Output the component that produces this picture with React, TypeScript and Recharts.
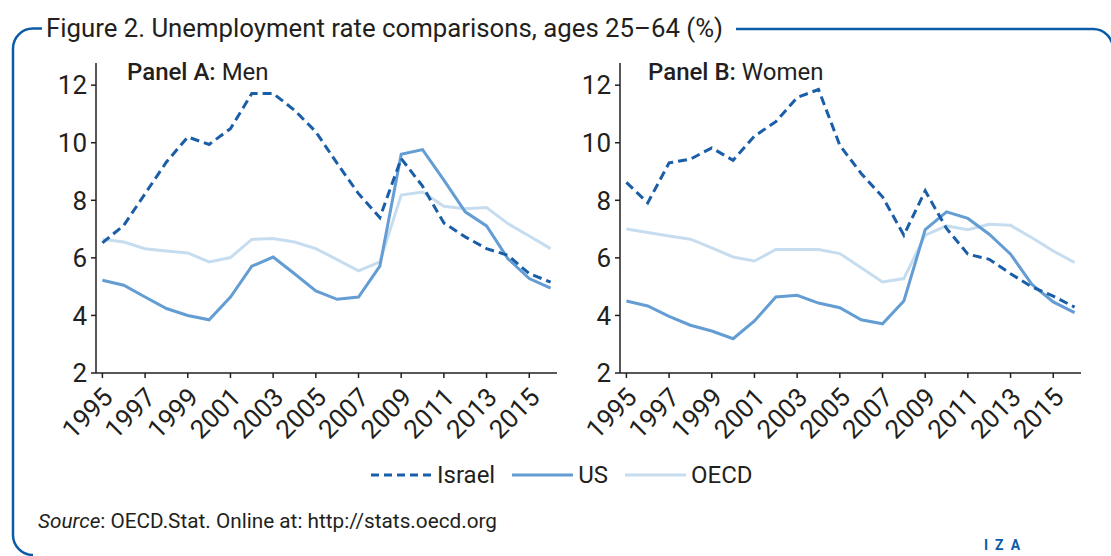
import React from "react";
import { LineChart, Line, XAxis, YAxis } from "recharts";

const years = [
  1995, 1996, 1997, 1998, 1999, 2000, 2001, 2002, 2003, 2004, 2005, 2006,
  2007, 2008, 2009, 2010, 2011, 2012, 2013, 2014, 2015, 2016,
];

const israelMen = [
  6.52, 7.13, 8.23, 9.33, 10.2, 9.94, 10.49, 11.71, 11.71, 11.13, 10.38, 9.28,
  8.23, 7.4, 9.45, 8.49, 7.21, 6.73, 6.32, 6.09, 5.45, 5.16,
];
const usMen = [
  5.22, 5.05, 4.64, 4.24, 4.0, 3.85, 4.64, 5.71, 6.03, 5.45, 4.85, 4.56, 4.64,
  5.71, 9.6, 9.76, 8.7, 7.6, 7.11, 5.97, 5.28, 4.95,
];
const oecdMen = [
  6.65, 6.55, 6.32, 6.24, 6.17, 5.86, 6.01, 6.64, 6.67, 6.55, 6.32, 5.94, 5.55,
  5.86, 8.18, 8.29, 7.79, 7.71, 7.75, 7.19, 6.76, 6.32,
];

const israelWomen = [
  8.62, 7.91, 9.3, 9.43, 9.82, 9.39, 10.23, 10.73, 11.57, 11.85, 9.91, 8.93,
  8.12, 6.79, 8.33, 7.02, 6.13, 5.95, 5.45, 4.99, 4.67, 4.29,
];
const usWomen = [
  4.5, 4.33, 3.97, 3.66, 3.46, 3.19, 3.81, 4.64, 4.7, 4.43, 4.27, 3.85, 3.71,
  4.5, 6.98, 7.6, 7.37, 6.82, 6.13, 5.08, 4.47, 4.1,
];
const oecdWomen = [
  7.0, 6.88, 6.76, 6.65, 6.35, 6.03, 5.89, 6.29, 6.29, 6.29, 6.15, 5.66, 5.16,
  5.28, 6.79, 7.11, 6.98, 7.17, 7.13, 6.7, 6.24, 5.84,
];

const xTicks = [1995, 1997, 1999, 2001, 2003, 2005, 2007, 2009, 2011, 2013, 2015];
const yTicks = [2, 4, 6, 8, 10, 12];

const series = [
  { key: "israel", name: "Israel", color: "#1a5ea8", dash: "9 5" },
  { key: "us", name: "US", color: "#649dd3", dash: undefined },
  { key: "oecd", name: "OECD", color: "#c6ddf0", dash: undefined },
];

const menRows = years.map((year, i) => ({
  year,
  israel: israelMen[i],
  us: usMen[i],
  oecd: oecdMen[i],
}));
const womenRows = years.map((year, i) => ({
  year,
  israel: israelWomen[i],
  us: usWomen[i],
  oecd: oecdWomen[i],
}));

const FONT = 'Roboto, "Liberation Sans", sans-serif';
const INK = "#231f20";
const FRAME = "#0c5ba7";

// rotated year labels, anchored at the end of the text
const XTick = (props: any) => {
  const { x, y, payload } = props;
  const ax = x + 12;
  const ay = y + 19;
  return (
    <text
      x={ax}
      y={ay}
      textAnchor="end"
      transform={`rotate(-45 ${ax} ${ay})`}
      fontSize={26}
      fontFamily={FONT}
      fill={INK}
    >
      {payload.value}
    </text>
  );
};

const Panel = ({ data }: { data: any[] }) => (
  <LineChart
    width={527}
    height={418}
    data={data}
    margin={{ top: 8, right: 10, left: 0, bottom: 0 }}
  >
    <XAxis
      dataKey="year"
      type="number"
      domain={[1994.7, 2016.3]}
      ticks={xTicks}
      interval={0}
      height={100}
      tickSize={5}
      tick={<XTick />}
      axisLine={{ stroke: INK, strokeWidth: 1.5 }}
      tickLine={{ stroke: INK, strokeWidth: 1.5 }}
      allowDataOverflow
    />
    <YAxis
      type="number"
      domain={[2, 12.77]}
      ticks={yTicks}
      interval={0}
      width={56}
      tickSize={5}
      tickMargin={4}
      tick={{ fontSize: 26, fontFamily: FONT, fill: INK }}
      axisLine={{ stroke: INK, strokeWidth: 1.5 }}
      tickLine={{ stroke: INK, strokeWidth: 1.5 }}
      allowDataOverflow
    />
    {series
      .slice()
      .reverse()
      .map((s) => (
        <Line
          key={s.key}
          dataKey={s.key}
          type="linear"
          stroke={s.color}
          strokeWidth={3}
          strokeDasharray={s.dash}
          dot={false}
          activeDot={false}
          isAnimationActive={false}
        />
      ))}
  </LineChart>
);

const PanelTitle = ({ x, label, sub }: { x: number; label: string; sub: string }) => (
  <div
    style={{
      position: "absolute",
      left: x,
      top: 58,
      fontFamily: FONT,
      fontSize: 24,
      color: INK,
      whiteSpace: "nowrap",
    }}
  >
    <span style={{ fontWeight: 500 }}>{label}</span> {sub}
  </div>
);

export default function App() {
  return (
    <div
      style={{
        position: "absolute",
        left: 0,
        top: 0,
        width: 1111,
        height: 556,
        background: "#fff",
        overflow: "hidden",
      }}
    >
      <svg
        width={1111}
        height={556}
        style={{ position: "absolute", left: 0, top: 0 }}
      >
        <path
          d="M 42 28.5 L 33 28.5 A 20 20 0 0 0 13 48.5 L 13 535 A 20 20 0 0 0 33 555"
          fill="none"
          stroke={FRAME}
          strokeWidth={2.5}
        />
        <path
          d="M 736 29 L 1093 29 A 20 20 0 0 1 1113 49"
          fill="none"
          stroke={FRAME}
          strokeWidth={2.5}
        />
        <text
          x={46}
          y={37}
          fontSize={26}
          fontFamily={FONT}
          fill={INK}
          textLength={677}
          lengthAdjust="spacingAndGlyphs"
        >
          Figure 2. Unemployment rate comparisons, ages 25–64 (%)
        </text>
        <text
          x={38}
          y={528}
          fontSize={20.5}
          fontFamily={FONT}
          fill={INK}
          textLength={459}
          lengthAdjust="spacingAndGlyphs"
        >
          <tspan fontStyle="italic">Source</tspan>: OECD.Stat. Online at:
          http://stats.oecd.org
        </text>
        <text
          x={984}
          y={550}
          fontSize={14}
          fontFamily={FONT}
          fontWeight={700}
          fill={FRAME}
          letterSpacing={7}
        >
          IZA
        </text>
      </svg>

      <div style={{ position: "absolute", left: 40, top: 55 }}>
        <Panel data={menRows} />
      </div>
      <div style={{ position: "absolute", left: 564, top: 55 }}>
        <Panel data={womenRows} />
      </div>

      <PanelTitle x={127} label="Panel A:" sub="Men" />
      <PanelTitle x={648} label="Panel B:" sub="Women" />

      <div
        style={{
          position: "absolute",
          left: 371,
          top: 461,
          display: "flex",
          alignItems: "center",
          fontFamily: FONT,
          fontSize: 24,
          color: INK,
        }}
      >
        {series.map((s) => (
          <div
            key={s.key}
            style={{ display: "flex", alignItems: "center", marginRight: 17 }}
          >
            <svg width={61} height={6} style={{ marginRight: 5 }}>
              <line
                x1={0}
                y1={3}
                x2={61}
                y2={3}
                stroke={s.color}
                strokeWidth={3}
                strokeDasharray={s.dash ? "8 5" : undefined}
              />
            </svg>
            <span>{s.name}</span>
          </div>
        ))}
      </div>
    </div>
  );
}
